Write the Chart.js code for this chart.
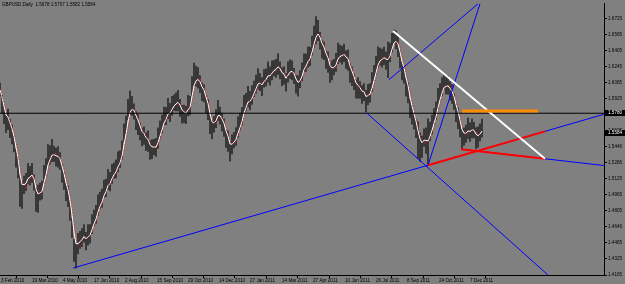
<!DOCTYPE html>
<html><head><meta charset="utf-8">
<script src="https://cdn.jsdelivr.net/npm/chart.js@4.4.1/dist/chart.umd.min.js"></script>
<style>html,body{margin:0;padding:0;background:#808080;overflow:hidden}canvas{display:block}</style>
</head><body>
<canvas id="c" width="625" height="284"></canvas>
<script>
const symbolTitle = 'GBPUSD,Daily  1.5678 1.5707 1.5582 1.5584';
const dateLabels = ['3 Feb 2010','19 Mar 2010','4 May 2010','17 Jun 2010','2 Aug 2010','15 Sep 2010','29 Oct 2010','14 Dec 2010','27 Jan 2011','14 Mar 2011','27 Apr 2011','10 Jun 2011','26 Jul 2011','8 Sep 2011','24 Oct 2011','7 Dec 2011'];
const dateBars = [1,32,63,94,125,157,188,219,250,282,313,345,376,407,439,470];
const priceTickLabels = ['1.6725','1.6565','1.6405','1.6245','1.6085','1.5925','1.5765','1.5605','1.5446','1.5286','1.5125','1.4965','1.4805','1.4646','1.4485','1.4325','1.4165'];
const barStep = 2; // each entry below spans two daily bars
const highs = [1.6080,1.5958,1.5851,1.5762,1.5822,1.5722,1.5663,1.5550,1.5422,1.5339,
1.5161,1.5102,1.5152,1.5181,1.5280,1.5249,1.5279,1.5166,1.5038,1.5063,
1.5082,1.5102,1.5260,1.5328,1.5467,1.5456,1.5520,1.5452,1.5432,1.5447,
1.5388,1.5269,1.5191,1.5082,1.5053,1.4895,1.4728,1.4526,1.4487,1.4581,
1.4600,1.4629,1.4669,1.4590,1.4669,1.4668,1.4768,1.4812,1.4861,1.4965,
1.4994,1.5023,1.5112,1.5122,1.5221,1.5190,1.5270,1.5284,1.5314,1.5398,
1.5407,1.5505,1.5673,1.5752,1.5920,1.6000,1.5949,1.5875,1.5796,1.5772,
1.5683,1.5633,1.5644,1.5584,1.5605,1.5505,1.5516,1.5520,1.5530,1.5634,
1.5703,1.5762,1.5841,1.5840,1.5930,1.5880,1.5949,1.5964,1.5983,1.6008,
1.5919,1.5860,1.5861,1.5850,1.5959,1.5948,1.6146,1.6280,1.6250,1.6235,
1.6156,1.6086,1.6067,1.5959,1.5920,1.5761,1.5713,1.5747,1.5816,1.5910,
1.5841,1.5781,1.5723,1.5614,1.5605,1.5486,1.5565,1.5589,1.5638,1.5743,
1.5782,1.5840,1.5959,1.5978,1.6048,1.5998,1.6057,1.6101,1.6160,1.6225,
1.6175,1.6136,1.6215,1.6224,1.6294,1.6244,1.6303,1.6308,1.6318,1.6373,
1.6293,1.6234,1.6245,1.6175,1.6294,1.6313,1.6303,1.6229,1.6160,1.6156,
1.6205,1.6283,1.6373,1.6372,1.6442,1.6441,1.6550,1.6650,1.6745,1.6707,
1.6589,1.6510,1.6491,1.6402,1.6393,1.6273,1.6303,1.6318,1.6377,1.6481,
1.6461,1.6451,1.6471,1.6402,1.6412,1.6273,1.6244,1.6170,1.6111,1.6136,
1.6097,1.6057,1.6077,1.6008,1.6068,1.6076,1.6185,1.6259,1.6347,1.6442,
1.6431,1.6421,1.6441,1.6392,1.6491,1.6480,1.6579,1.6610,1.6603,1.6550,
1.6402,1.6293,1.6254,1.6126,1.6087,1.5919,1.5860,1.5777,1.5717,1.5693,
1.5585,1.5555,1.5624,1.5634,1.5723,1.5692,1.5762,1.5826,1.5895,1.6028,
1.6077,1.6136,1.6166,1.6146,1.6150,1.6096,1.6067,1.5973,1.5875,1.5831,
1.5713,1.5624,1.5634,1.5663,1.5733,1.5683,1.5723,1.5688,1.5638,1.5644,
1.5673,1.5722];
const lows = [1.5950,1.5778,1.5676,1.5587,1.5617,1.5537,1.5473,1.5395,1.5242,1.5134,
1.4850,1.4830,1.4977,1.5006,1.5075,1.5064,1.5089,1.5011,1.4800,1.4790,
1.4912,1.4922,1.5085,1.5153,1.5262,1.5271,1.5296,1.5297,1.5252,1.5242,
1.5218,1.5089,1.5016,1.4907,1.4848,1.4710,1.4538,1.4300,1.4234,1.4376,
1.4430,1.4449,1.4494,1.4415,1.4464,1.4483,1.4578,1.4657,1.4681,1.4760,
1.4824,1.4843,1.4937,1.4947,1.5016,1.5005,1.5080,1.5129,1.5134,1.5193,
1.5237,1.5325,1.5498,1.5577,1.5715,1.5763,1.5759,1.5720,1.5616,1.5567,
1.5513,1.5453,1.5469,1.5409,1.5400,1.5320,1.5326,1.5365,1.5350,1.5429,
1.5533,1.5582,1.5666,1.5665,1.5725,1.5695,1.5759,1.5809,1.5803,1.5803,
1.5749,1.5680,1.5686,1.5675,1.5754,1.5763,1.5956,1.6055,1.6049,1.6030,
1.5986,1.5906,1.5892,1.5784,1.5715,1.5576,1.5523,1.5592,1.5636,1.5705,
1.5671,1.5601,1.5548,1.5439,1.5400,1.5301,1.5375,1.5434,1.5458,1.5538,
1.5612,1.5660,1.5784,1.5803,1.5843,1.5813,1.5867,1.5946,1.5980,1.6020,
1.6005,1.5956,1.6040,1.6049,1.6089,1.6059,1.6113,1.6153,1.6138,1.6168,
1.6123,1.6054,1.6070,1.6000,1.6089,1.6128,1.6113,1.6074,1.5980,1.5951,
1.6035,1.6103,1.6198,1.6197,1.6237,1.6256,1.6360,1.6439,1.6473,1.6502,
1.6419,1.6330,1.6316,1.6227,1.6188,1.6088,1.6113,1.6163,1.6197,1.6276,
1.6291,1.6271,1.6296,1.6227,1.6207,1.6088,1.6054,1.6015,1.5931,1.5931,
1.5927,1.5877,1.5902,1.5790,1.5863,1.5891,1.5995,1.6104,1.6167,1.6237,
1.6261,1.6241,1.6266,1.6217,1.6135,1.6295,1.6389,1.6478,1.6423,1.6345,
1.6232,1.6113,1.6079,1.5951,1.5882,1.5734,1.5670,1.5622,1.5537,1.5330,
1.5300,1.5340,1.5449,1.5380,1.5268,1.5507,1.5572,1.5671,1.5715,1.5823,
1.5907,1.5956,1.6020,1.5971,1.5971,1.5911,1.5877,1.5818,1.5695,1.5626,
1.5543,1.5422,1.5459,1.5488,1.5528,1.5498,1.5533,1.5533,1.5423,1.5439,
1.5503,1.5542];
const levelPrice = 1.5780;
const bidPrice = 1.5584;
const blueLines = [
  [[73,1.4234],[604,1.5770]],
  [[367,1.5780],[548,1.4165]],
  [[389,1.6115],[478,1.6873]],
  [[428,1.5261],[480,1.6873]],
  [[461,1.5421],[604,1.5258]]
];
const redLines = [
  [[428,1.5261],[545,1.5599]],
  [[461,1.5421],[545,1.5325]]
];
const whiteLine = [[393,1.6602],[545,1.5325]];
const orangeLine = [[462,1.5802],[538,1.5802]];
const horizLine = [[0,levelPrice],[604,levelPrice]];

const FONT = {family:'Liberation Sans, Arial, sans-serif', size:4.6};
const mids = highs.map((h,i)=>(h+lows[i])/2);
const fastMA = []; let ema = mids[0];
mids.forEach((v,i)=>{ ema = ema + 0.5*(v-ema); fastMA.push({x:i*barStep,y:ema}); });
const slowMA = mids.map((v,i)=>{ const a = mids.slice(Math.max(0,i-3),i+1); return {x:i*barStep, y:a.reduce((s,t)=>s+t,0)/a.length}; });

function seg(pts,color,width,order){
  return {type:'line', data:pts.map(p=>({x:p[0],y:p[1]})), borderColor:color, borderWidth:width, pointRadius:0, fill:false, tension:0, order:order};
}
const datasets = [
  {type:'bar', data:highs.map((h,i)=>({x:i*barStep, y:[lows[i],h]})), backgroundColor:'#2a2a2a', borderWidth:0, barThickness:1, grouped:false, order:20},
  {type:'line', data:fastMA, borderColor:'#ffffff', borderWidth:1, pointRadius:0, tension:0, order:15},
  {type:'line', data:slowMA, borderColor:'#ff2020', borderWidth:1, borderDash:[1,2], pointRadius:0, tension:0, order:14},
  seg(horizLine,'#000000',1,10)
];
blueLines.forEach(l=>datasets.push(seg(l,'#0000ff',1,8)));
redLines.forEach(l=>datasets.push(seg(l,'#ff0000',2,6)));
datasets.push(seg(whiteLine,'#ffffff',2,5));
datasets.push(seg(orangeLine,'#ff8c00',3,4));

const mtPlugin = {
  id:'mt',
  beforeDraw(chart){ const c=chart.ctx; c.save(); c.fillStyle='#808080'; c.fillRect(0,0,chart.width,chart.height); c.restore(); },
  afterDraw(chart){
    const c=chart.ctx, ys=chart.scales.y, ca=chart.chartArea;
    c.save();
    c.font = FONT.size+'px '+FONT.family;
    c.textBaseline='middle'; c.textAlign='left';
    c.fillStyle='#000'; c.fillText(symbolTitle, 2, 5);
    [levelPrice,bidPrice].forEach(p=>{
      const y = Math.round(ys.getPixelForValue(p));
      c.fillStyle='#000'; c.fillRect(ca.right+1, y-3, 20, 6);
      c.fillStyle='#fff'; c.fillText(p.toFixed(4), ca.right+4, y);
    });
    c.restore();
  }
};

new Chart(document.getElementById('c'), {
  type:'bar',
  data:{datasets},
  plugins:[mtPlugin],
  options:{
    responsive:false, animation:false, devicePixelRatio:1,
    layout:{padding:0},
    plugins:{legend:{display:false}, tooltip:{enabled:false}},
    scales:{
      x:{type:'linear', min:0, max:604, offset:false,
        grid:{drawOnChartArea:false, color:'#000', tickLength:3, tickWidth:1},
        border:{color:'#000', width:1},
        ticks:{autoSkip:false, maxRotation:0, minRotation:0, align:'start', padding:0, color:'#000', font:FONT,
          callback:(v)=>{ const i=dateBars.indexOf(v); return i>=0?dateLabels[i]:''; }},
        afterBuildTicks:(s)=>{ s.ticks = dateBars.map(v=>({value:v})); },
        afterFit:(s)=>{ s.height = 9; }
      },
      y:{type:'linear', position:'right', min:1.4165, max:1.6873,
        grid:{drawOnChartArea:false, color:'#000', tickLength:3, tickWidth:1},
        border:{color:'#000', width:1},
        ticks:{autoSkip:false, padding:1, color:'#000', font:FONT,
          callback:(v)=>{ const i=priceTickLabels.findIndex(t=>Math.abs(parseFloat(t)-v)<1e-6); return i>=0?priceTickLabels[i]:''; }},
        afterBuildTicks:(s)=>{ s.ticks = priceTickLabels.map(t=>({value:parseFloat(t)})); },
        afterFit:(s)=>{ s.width = 21; }
      }
    }
  }
});
</script>
</body></html>
